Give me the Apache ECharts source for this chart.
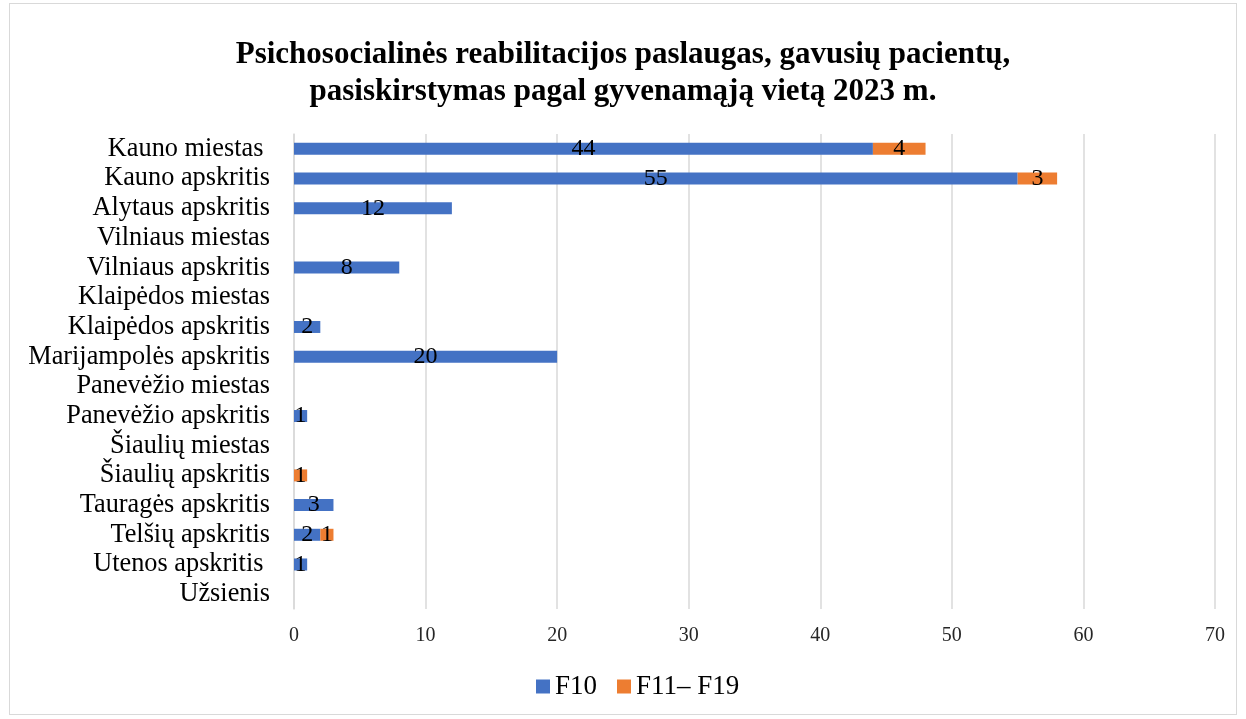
<!DOCTYPE html>
<html>
<head>
<meta charset="utf-8">
<script src="https://cdn.jsdelivr.net/npm/echarts@6/dist/echarts.min.js"></script>
<style>
  html, body { margin: 0; padding: 0; background: #fff; }
  #frame { position: absolute; left: 9px; top: 3px; width: 1228px; height: 712px; border: 1px solid #d9d9d9; box-sizing: border-box; }
  #chart { position: absolute; left: 0; top: 0; width: 1246px; height: 719px; }
</style>
</head>
<body>
<div id="frame"></div>
<div id="chart"></div>
<script>
const categories = [
  'Kauno miestas ', 'Kauno apskritis', 'Alytaus apskritis', 'Vilniaus miestas',
  'Vilniaus apskritis', 'Klaipėdos miestas', 'Klaipėdos apskritis', 'Marijampolės apskritis',
  'Panevėžio miestas', 'Panevėžio apskritis', 'Šiaulių miestas', 'Šiaulių apskritis',
  'Tauragės apskritis', 'Telšių apskritis', 'Utenos apskritis ', 'Užsienis'
];
const f10 = [44, 55, 12, null, 8, null, 2, 20, null, 1, null, null, 3, 2, 1, null];
const f11to19 = [4, 3, null, null, null, null, null, null, null, null, null, 1, null, 1, null, null];

const font = '"Liberation Serif", "Times New Roman", serif';
const chart = echarts.init(document.getElementById('chart'));

const label = {
  show: true,
  position: 'inside',
  color: '#000',
  fontFamily: font,
  fontSize: 24
};

chart.setOption({
  animation: false,
  title: {
    text: 'Psichosocialinės reabilitacijos paslaugas, gavusių pacientų,\npasiskirstymas pagal gyvenamąją vietą 2023 m.',
    left: 'center',
    top: 31,
    textStyle: { fontFamily: font, fontSize: 31, fontWeight: 'bold', color: '#000', lineHeight: 37 }
  },
  legend: {
    bottom: 14,
    left: 531,
    itemWidth: 14,
    itemHeight: 14,
    itemGap: 20,
    icon: 'rect',
    textStyle: { fontFamily: font, fontSize: 27, color: '#000' },
    data: ['F10', 'F11– F19']
  },
  grid: { left: 294, right: 31, top: 134, bottom: 110 },
  xAxis: {
    type: 'value',
    min: 0,
    max: 70,
    interval: 10,
    axisLine: { show: false },
    axisTick: { show: false },
    axisLabel: { fontFamily: font, fontSize: 20, color: '#262626', margin: 17 },
    splitLine: { lineStyle: { color: '#d9d9d9', width: 1.5 } }
  },
  yAxis: {
    type: 'category',
    inverse: true,
    data: categories,
    axisLine: { lineStyle: { color: '#d9d9d9', width: 1.5 } },
    axisTick: { show: false },
    axisLabel: { fontFamily: font, fontSize: 26.3, color: '#000', margin: 24, interval: 0 }
  },
  series: [
    {
      name: 'F10',
      type: 'bar',
      stack: 'total',
      data: f10,
      barWidth: 12,
      itemStyle: { color: '#4472C4' },
      label
    },
    {
      name: 'F11– F19',
      type: 'bar',
      stack: 'total',
      data: f11to19,
      barWidth: 12,
      itemStyle: { color: '#ED7D31' },
      label
    }
  ]
});
</script>
</body>
</html>
